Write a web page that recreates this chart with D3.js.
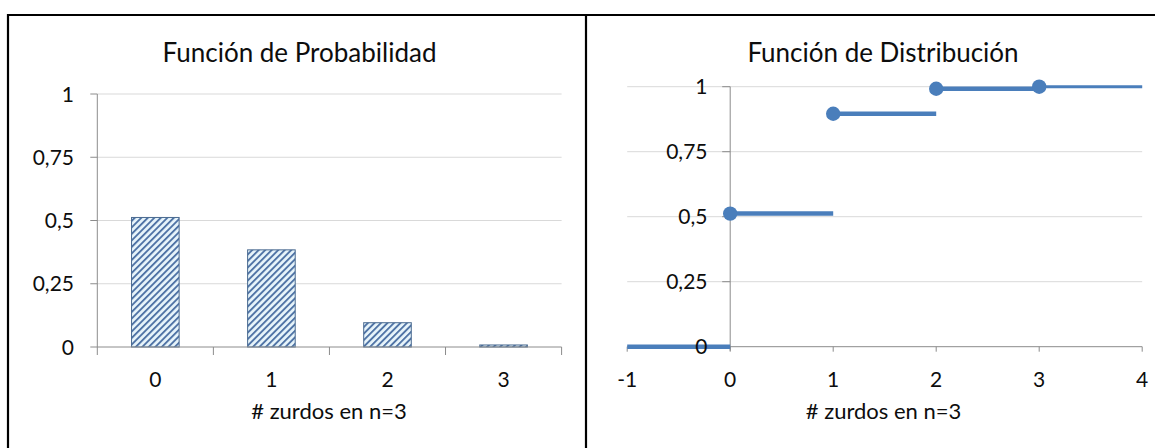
<!DOCTYPE html>
<html>
<head>
<meta charset="utf-8">
<script src="https://cdn.jsdelivr.net/npm/d3@7"></script>
<style>
  html, body { margin: 0; padding: 0; background: #ffffff; }
  svg { display: block; }
  text { font-family: Lato, "Open Sans", sans-serif; fill: #0d0d0d; }
</style>
</head>
<body>
<svg id="chart" width="1155" height="448"></svg>
<script>
// Binomial n=3: probability mass and cumulative distribution
const categories = ["0", "1", "2", "3"];
const probValues = [0.512, 0.384, 0.096, 0.008];

const yTicks = [0, 0.25, 0.5, 0.75, 1];
const yTickLabels = ["0", "0,25", "0,5", "0,75", "1"];

const stepStart = [-1, 0, 1, 2, 3];
const stepEnd = [0, 1, 2, 3, 4];
const cdfValues = [0, 0.512, 0.896, 0.992, 1];
const cdfTicks = [-1, 0, 1, 2, 3, 4];

const titleLeft = "Función de Probabilidad";
const titleRight = "Función de Distribución";
const xTitle = "# zurdos en n=3";

const svg = d3.select("#chart");
const gridColor = "#d9d9d9";
const axisColor = "#8c8c8c";
const blue = "#4a7ebb";
const tickFont = 21;
const titleFont = 26;
const axisTitleFont = 22;

// hatch pattern for the bars
const defs = svg.append("defs");
const pat = defs.append("pattern")
  .attr("id", "hatch")
  .attr("patternUnits", "userSpaceOnUse")
  .attr("width", 4.6).attr("height", 4.6)
  .attr("patternTransform", "rotate(45)");
pat.append("rect").attr("width", 4.6).attr("height", 4.6).attr("fill", "#e8f5fb");
pat.append("rect").attr("x", 0).attr("width", 1.9).attr("height", 4.6).attr("fill", "#5074a6");

// frame lines
const frame = svg.append("g").attr("stroke", "#000").attr("stroke-width", 2.2);
frame.append("line").attr("x1", 7).attr("x2", 1155).attr("y1", 15).attr("y2", 15);
frame.append("line").attr("x1", 8).attr("x2", 8).attr("y1", 14).attr("y2", 448);
frame.append("line").attr("x1", 586).attr("x2", 586).attr("y1", 14).attr("y2", 448);

/* ---------- left: probability function ---------- */
{
  const x = d3.scaleBand().domain(categories).range([97.3, 561.6]).padding(0);
  const y = d3.scaleLinear().domain([0, 1]).range([347, 94]);
  const g = svg.append("g");
  const bw = x.bandwidth();

  g.selectAll("line.grid").data(yTicks.filter(d => d > 0)).join("line")
    .attr("x1", x.range()[0]).attr("x2", x.range()[1])
    .attr("y1", d => y(d)).attr("y2", d => y(d))
    .attr("stroke", gridColor).attr("stroke-width", 1);

  // y axis
  g.append("line").attr("x1", x.range()[0]).attr("x2", x.range()[0])
    .attr("y1", y(1)).attr("y2", y(0)).attr("stroke", axisColor);
  g.selectAll("line.yt").data(yTicks).join("line")
    .attr("x1", x.range()[0] - 7).attr("x2", x.range()[0])
    .attr("y1", d => y(d)).attr("y2", d => y(d)).attr("stroke", axisColor);
  g.selectAll("text.yl").data(yTicks).join("text")
    .attr("x", 74).attr("y", d => y(d)).attr("dy", "0.36em")
    .attr("text-anchor", "end").attr("font-size", tickFont)
    .text((d, i) => yTickLabels[i]);

  // bars
  g.selectAll("rect.bar").data(probValues).join("rect")
    .attr("x", (d, i) => x(categories[i]) + bw * 0.295)
    .attr("width", bw * 0.41)
    .attr("y", d => y(d)).attr("height", d => y(0) - y(d))
    .attr("fill", "url(#hatch)").attr("stroke", "#4a6a90").attr("stroke-width", 1);

  // x axis
  g.append("line").attr("x1", x.range()[0]).attr("x2", x.range()[1])
    .attr("y1", y(0)).attr("y2", y(0)).attr("stroke", axisColor);
  const bounds = categories.map(c => x(c)).concat([x.range()[1]]);
  g.selectAll("line.xt").data(bounds).join("line")
    .attr("x1", d => d).attr("x2", d => d)
    .attr("y1", y(0)).attr("y2", y(0) + 8).attr("stroke", axisColor);
  g.selectAll("text.xl").data(categories).join("text")
    .attr("x", d => x(d) + bw / 2).attr("y", 387)
    .attr("text-anchor", "middle").attr("font-size", tickFont)
    .text(d => d);

  g.append("text").attr("x", 329).attr("y", 419)
    .attr("text-anchor", "middle").attr("font-size", axisTitleFont).text(xTitle);
  g.append("text").attr("x", 299.5).attr("y", 62)
    .attr("text-anchor", "middle").attr("font-size", titleFont).text(titleLeft);
}

/* ---------- right: distribution function ---------- */
{
  const x = d3.scaleLinear().domain([-1, 4]).range([627.2, 1142.2]);
  const y = d3.scaleLinear().domain([0, 1]).range([346.7, 86.7]);
  const g = svg.append("g");

  g.selectAll("line.grid").data(yTicks.filter(d => d > 0)).join("line")
    .attr("x1", x(-1)).attr("x2", x(4))
    .attr("y1", d => y(d)).attr("y2", d => y(d))
    .attr("stroke", gridColor).attr("stroke-width", 1);

  // axes
  g.append("line").attr("x1", x(0)).attr("x2", x(0))
    .attr("y1", y(1)).attr("y2", y(0) + 4).attr("stroke", axisColor);
  g.selectAll("line.yt").data(yTicks).join("line")
    .attr("x1", x(0) - 8).attr("x2", x(0))
    .attr("y1", d => y(d)).attr("y2", d => y(d)).attr("stroke", axisColor);
  g.append("line").attr("x1", x(-1)).attr("x2", x(4))
    .attr("y1", y(0)).attr("y2", y(0)).attr("stroke", axisColor);
  g.selectAll("line.xt").data(cdfTicks).join("line")
    .attr("x1", d => x(d)).attr("x2", d => x(d))
    .attr("y1", y(0)).attr("y2", y(0) + 5).attr("stroke", axisColor);

  // step segments and markers
  g.selectAll("line.step").data(cdfValues).join("line")
    .attr("x1", (d, i) => x(stepStart[i])).attr("x2", (d, i) => x(stepEnd[i]))
    .attr("y1", d => y(d)).attr("y2", d => y(d))
    .attr("stroke", blue).attr("stroke-width", (d, i) => i === cdfValues.length - 1 ? 3 : 4.5);
  g.selectAll("circle.pt").data(cdfValues.slice(1)).join("circle")
    .attr("cx", (d, i) => x(stepStart[i + 1])).attr("cy", d => y(d))
    .attr("r", 7.2).attr("fill", blue);

  g.selectAll("text.yl").data(yTicks).join("text")
    .attr("x", 707.5).attr("y", d => y(d)).attr("dy", "0.36em")
    .attr("text-anchor", "end").attr("font-size", tickFont)
    .text((d, i) => yTickLabels[i]);
  g.selectAll("text.xl").data(cdfTicks).join("text")
    .attr("x", d => x(d)).attr("y", 387)
    .attr("text-anchor", "middle").attr("font-size", tickFont)
    .text(d => d);

  g.append("text").attr("x", 883.6).attr("y", 419)
    .attr("text-anchor", "middle").attr("font-size", axisTitleFont).text(xTitle);
  g.append("text").attr("x", 883).attr("y", 62)
    .attr("text-anchor", "middle").attr("font-size", titleFont).text(titleRight);
}
</script>
</body>
</html>
